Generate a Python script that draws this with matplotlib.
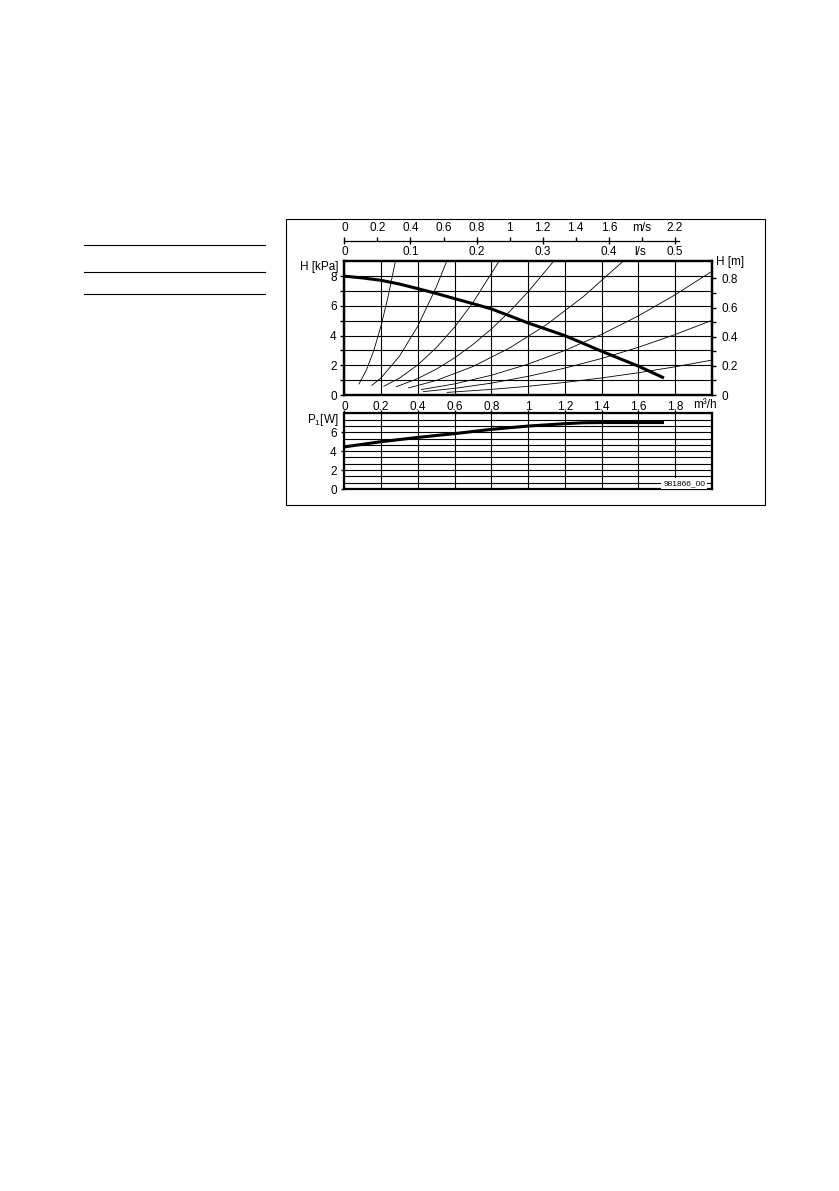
import matplotlib
matplotlib.use('Agg')
import matplotlib.pyplot as plt
from matplotlib.lines import Line2D
from matplotlib.patches import Rectangle

plt.rcParams['font.family'] = ['Liberation Sans', 'DejaVu Sans']
plt.rcParams['mathtext.fontset'] = 'custom'
plt.rcParams['mathtext.rm'] = 'Liberation Sans'
plt.rcParams['mathtext.it'] = 'Liberation Sans'
plt.rcParams['font.size'] = 8.5

# pump curve H [kPa] vs Q [m3/h]
q_pump = [0, 0.1, 0.2, 0.3, 0.4, 0.5, 0.6, 0.7, 0.8, 0.9, 1.0, 1.1, 1.2, 1.3, 1.4, 1.5, 1.6, 1.74]
h_pump = [8.0, 7.88, 7.72, 7.47, 7.16, 6.84, 6.49, 6.15, 5.8, 5.33, 4.85, 4.43, 4.0, 3.48, 2.95, 2.45, 1.95, 1.15]

# system curves (thin lines)
sys_q = [
    [0.08, 0.12, 0.16, 0.2, 0.24, 0.278],
    [0.15, 0.2, 0.3, 0.4, 0.5, 0.557],
    [0.215, 0.3, 0.4, 0.5, 0.6, 0.7, 0.842],
    [0.283, 0.4, 0.5, 0.6, 0.7, 0.8, 0.9, 1.0, 1.139],
    [0.35, 0.5, 0.7, 0.9, 1.1, 1.3, 1.517],
    [0.42, 0.6, 0.8, 1.0, 1.2, 1.4, 1.6, 1.8, 2.0],
    [0.43, 0.6, 0.8, 1.0, 1.2, 1.4, 1.6, 1.8, 2.0],
    [0.56, 0.8, 1.0, 1.2, 1.4, 1.6, 1.8, 2.0],
]
sys_h = [
    [0.75, 1.68, 2.98, 4.66, 6.72, 9.0],
    [0.65, 1.16, 2.61, 4.64, 7.25, 9.0],
    [0.59, 1.14, 2.03, 3.18, 4.57, 6.22, 9.0],
    [0.56, 1.11, 1.74, 2.5, 3.4, 4.44, 5.62, 6.94, 9.0],
    [0.48, 0.98, 1.92, 3.17, 4.73, 6.61, 9.0],
    [0.37, 0.75, 1.33, 2.08, 3.0, 4.08, 5.32, 6.74, 8.32],
    [0.23, 0.45, 0.8, 1.26, 1.81, 2.46, 3.21, 4.07, 5.02],
    [0.18, 0.38, 0.59, 0.85, 1.15, 1.5, 1.9, 2.35],
]

# power curve P1 [W]
q_pow = [0, 0.2, 0.4, 0.6, 0.8, 1.0, 1.2, 1.3, 1.4, 1.6, 1.74]
p_pow = [4.45, 5.0, 5.45, 5.85, 6.3, 6.65, 6.9, 7.0, 7.02, 7.02, 7.02]

q_ticks = [0, 0.2, 0.4, 0.6, 0.8, 1.0, 1.2, 1.4, 1.6, 1.8]
q_labels = ['0', '0.2', '0.4', '0.6', '0.8', '1', '1.2', '1.4', '1.6', '1.8']
v_ticks = [0, 0.2, 0.4, 0.6, 0.8, 1.0, 1.2, 1.4, 1.6, 1.8, 2.0]
v_labels = ['0', '0.2', '0.4', '0.6', '0.8', '1', '1.2', '1.4', '1.6', 'm/s', '2.2']
ls_ticks = [0, 0.1, 0.2, 0.3, 0.4, 0.5]
ls_labels = ['0', '0.1', '0.2', '0.3', '0.4', '0.5']
h_m_ticks = [0, 0.2, 0.4, 0.6, 0.8]

fig = plt.figure(figsize=(8.39, 11.91), dpi=100)
L, W = 0.4104, 0.4379

ax = fig.add_axes([L, 0.6683, W, 0.1123])
axp = fig.add_axes([L, 0.5894, W, 0.0636])

for a in (ax, axp):
    a.set_xlim(0, 2.0)
    for s in a.spines.values():
        s.set_linewidth(1.6)
    a.set_xticks(q_ticks)
    a.grid(True, which='both', color='black', lw=0.8)
    a.set_axisbelow(True)

# upper chart
ax.set_ylim(0, 9)
ax.set_yticks([0, 2, 4, 6, 8])
ax.set_yticks([1, 3, 5, 7], minor=True)
ax.set_xticklabels(q_labels)
ax.tick_params(axis='x', length=0, pad=4)
ax.tick_params(axis='y', which='both', direction='out', length=3, width=1, pad=2.5)
for qs, hs in zip(sys_q, sys_h):
    ax.plot(qs, hs, color='black', lw=0.6)
ax.plot(q_pump, h_pump, color='black', lw=2.2, solid_capstyle='butt')
ax.text(1.965, -0.075, 'm³/h', transform=ax.get_xaxis_transform(), ha='center', va='center')

axr = ax.twinx()
axr.set_ylim(0, 9 / 9.81)
axr.set_yticks(h_m_ticks)
axr.set_yticks([0.1, 0.3, 0.5, 0.7], minor=True)
axr.set_yticklabels(['0', '0.2', '0.4', '0.6', '0.8'])
axr.tick_params(axis='y', which='both', direction='out', length=3, width=1, pad=4)
for s in axr.spines.values():
    s.set_linewidth(1.6)

# lower chart
axp.set_ylim(0, 8)
axp.set_yticks([0, 2, 4, 6])
axp.set_yticks([2 / 3, 4 / 3, 8 / 3, 10 / 3, 14 / 3, 16 / 3, 20 / 3, 22 / 3, 8], minor=True)
axp.tick_params(axis='y', which='major', direction='out', length=2.5, width=1, pad=3)
axp.tick_params(axis='y', which='minor', length=0)
axp.tick_params(axis='x', top=True, bottom=False, labelbottom=False, direction='out', length=2.5, width=1)
axp.plot(q_pow, p_pow, color='black', lw=2.2, solid_capstyle='butt')
axp.text(1.85, 0.6, '981866_00', fontsize=6, ha='center', va='center',
         bbox=dict(facecolor='white', edgecolor='none', pad=1.5))

# flow scales on top: m/s above the line, l/s below
axv = fig.add_axes([L, 0.7974, W, 0.0001])
axl = fig.add_axes([L, 0.7974, W, 0.0001])
for a in (axv, axl):
    a.set_xlim(0, 2.0)
    a.patch.set_visible(False)
    a.set_yticks([])
    for s in a.spines.values():
        s.set_visible(False)
axl.spines['bottom'].set_visible(True)
axl.spines['bottom'].set_bounds(0, 1.82)
axl.spines['bottom'].set_linewidth(0.9)
axv.xaxis.tick_top()
axv.set_xticks([0.9 * v for v in v_ticks])
axv.set_xticklabels(v_labels)
axv.tick_params(axis='x', direction='out', length=3, width=1, pad=2)
axl.set_xticks([3.6 * v for v in ls_ticks])
axl.set_xticklabels(ls_labels)
axl.tick_params(axis='x', direction='out', length=2.5, width=1, pad=1)
axl.annotate('l/s', xy=(1.61, 0), xycoords=('data', 'axes fraction'),
             xytext=(0, -7.5), textcoords='offset points', ha='center', va='center')

# axis titles
fig.text(0.403, 0.776, 'H [kPa]', ha='right', va='center')
fig.text(0.870, 0.7803, 'H [m]', ha='center', va='center')
fig.text(0.403, 0.6474, 'P$_1$[W]', ha='right', va='center')

# frame and table lines
fig.add_artist(Rectangle((0.3409, 0.576), 0.5709, 0.2401, transform=fig.transFigure,
                         fill=False, lw=0.8, ec='black'))
for yy in (0.7943, 0.7716, 0.7531):
    fig.add_artist(Line2D([0.1001, 0.3159], [yy, yy], transform=fig.transFigure,
                          color='black', lw=0.8))

fig.savefig('out.png', dpi=100)
